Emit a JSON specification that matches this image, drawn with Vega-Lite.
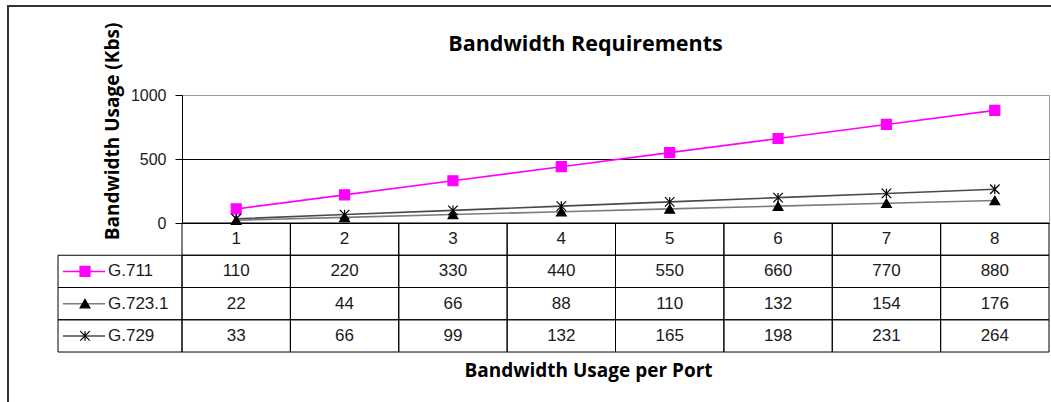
{
  "$schema": "https://vega.github.io/schema/vega-lite/v6.json",
  "width": 867,
  "height": 128,
  "autosize": {"type": "none"},
  "padding": {"left": 182, "top": 95, "right": 2, "bottom": 179},
  "background": "white",
  "title": {"text": "Bandwidth Requirements", "anchor": "middle", "dx": -30, "dy": 54, "font": "Open Sans", "fontSize": 21.5, "fontWeight": "bold", "color": "black"},
  "config": {"view": {"stroke": "#9a9a9a", "strokeWidth": 1}},
  "data": {"values": [
    {"port": 1, "series": "G.711", "kbps": 110}, {"port": 2, "series": "G.711", "kbps": 220},
    {"port": 3, "series": "G.711", "kbps": 330}, {"port": 4, "series": "G.711", "kbps": 440},
    {"port": 5, "series": "G.711", "kbps": 550}, {"port": 6, "series": "G.711", "kbps": 660},
    {"port": 7, "series": "G.711", "kbps": 770}, {"port": 8, "series": "G.711", "kbps": 880},
    {"port": 1, "series": "G.723.1", "kbps": 22}, {"port": 2, "series": "G.723.1", "kbps": 44},
    {"port": 3, "series": "G.723.1", "kbps": 66}, {"port": 4, "series": "G.723.1", "kbps": 88},
    {"port": 5, "series": "G.723.1", "kbps": 110}, {"port": 6, "series": "G.723.1", "kbps": 132},
    {"port": 7, "series": "G.723.1", "kbps": 154}, {"port": 8, "series": "G.723.1", "kbps": 176},
    {"port": 1, "series": "G.729", "kbps": 33}, {"port": 2, "series": "G.729", "kbps": 66},
    {"port": 3, "series": "G.729", "kbps": 99}, {"port": 4, "series": "G.729", "kbps": 132},
    {"port": 5, "series": "G.729", "kbps": 165}, {"port": 6, "series": "G.729", "kbps": 198},
    {"port": 7, "series": "G.729", "kbps": 231}, {"port": 8, "series": "G.729", "kbps": 264}
  ]},
  "transform": [
    {"calculate": "indexof(['G.711','G.723.1','G.729'], datum.series)", "as": "r"},
    {"calculate": "-252 * (datum.r + 1)", "as": "ya"},
    {"calculate": "-252 * (datum.r + 2)", "as": "yb"},
    {"calculate": "-252 * datum.r - 378", "as": "yc"},
    {"calculate": "datum.port - 0.5", "as": "xa"},
    {"calculate": "datum.port + 0.5", "as": "xb"}
  ],
  "layer": [
    {
      "transform": [{"filter": "datum.series === 'G.711' && datum.port === 1"}],
      "mark": {"type": "rect", "fill": "transparent", "stroke": "#333333", "strokeWidth": 2},
      "encoding": {
        "x": {"datum": -1.1055, "type": "quantitative"},
        "x2": {"datum": 9.6},
        "y": {"datum": 1695, "type": "quantitative"},
        "y2": {"datum": -2600}
      }
    },
    {
      "transform": [{"filter": "datum.series === 'G.711'"}],
      "mark": {"type": "rect", "fill": "transparent", "stroke": "black", "strokeWidth": 1},
      "encoding": {
        "x": {"field": "xa", "type": "quantitative"},
        "x2": {"field": "xb"},
        "y": {"datum": 0, "type": "quantitative"},
        "y2": {"datum": -252}
      }
    },
    {
      "mark": {"type": "rect", "fill": "transparent", "stroke": "black", "strokeWidth": 1},
      "encoding": {
        "x": {"field": "xa", "type": "quantitative"},
        "x2": {"field": "xb"},
        "y": {"field": "ya", "type": "quantitative"},
        "y2": {"field": "yb"}
      }
    },
    {
      "transform": [{"filter": "datum.port === 1"}],
      "mark": {"type": "rect", "fill": "transparent", "stroke": "black", "strokeWidth": 1},
      "encoding": {
        "x": {"datum": -0.644, "type": "quantitative"},
        "x2": {"datum": 0.5},
        "y": {"field": "ya", "type": "quantitative"},
        "y2": {"field": "yb"}
      }
    },
    {
      "transform": [{"filter": "datum.series === 'G.711'"}],
      "mark": {"type": "text", "font": "Liberation Sans", "fontSize": 17, "color": "#1a1a1a", "baseline": "middle", "align": "center"},
      "encoding": {
        "x": {"field": "port", "type": "quantitative"},
        "y": {"datum": -126, "type": "quantitative"},
        "text": {"field": "port", "type": "nominal"}
      }
    },
    {
      "mark": {"type": "text", "font": "Liberation Sans", "fontSize": 17, "color": "#1a1a1a", "baseline": "middle", "align": "center"},
      "encoding": {
        "x": {"field": "port", "type": "quantitative"},
        "y": {"field": "yc", "type": "quantitative"},
        "text": {"field": "kbps", "type": "quantitative"}
      }
    },
    {
      "transform": [{"filter": "datum.port === 1"}],
      "mark": {"type": "text", "font": "Liberation Sans", "fontSize": 17, "color": "#1a1a1a", "baseline": "middle", "align": "left"},
      "encoding": {
        "x": {"datum": -0.183, "type": "quantitative"},
        "y": {"field": "yc", "type": "quantitative"},
        "text": {"field": "series", "type": "nominal"}
      }
    },
    {
      "transform": [{"filter": "datum.port === 1"}],
      "mark": {"type": "rule", "strokeWidth": 1.5},
      "encoding": {
        "x": {"datum": -0.598, "type": "quantitative"},
        "x2": {"datum": -0.21},
        "y": {"field": "yc", "type": "quantitative"},
        "color": {"field": "series", "type": "nominal", "scale": {"domain": ["G.711", "G.723.1", "G.729"], "range": ["#ff00ff", "#7a7a86", "#4a4a4a"]}, "legend": null}
      }
    },
    {
      "mark": {"type": "line", "strokeWidth": 1.6},
      "encoding": {
        "x": {"field": "port", "type": "quantitative", "scale": {"domain": [0.5, 8.5], "nice": false, "zero": false},
              "axis": {"domain": false, "ticks": false, "labels": false, "grid": false, "title": "Bandwidth Usage per Port",
                       "titleFont": "Open Sans", "titleFontSize": 19, "titleFontWeight": "bold", "titleColor": "black",
                       "titleX": 406, "titleY": 153, "titleAlign": "center", "titleBaseline": "alphabetic"}},
        "y": {"field": "kbps", "type": "quantitative", "scale": {"domain": [0, 1000], "nice": false, "zero": false},
              "axis": {"values": [0, 500, 1000], "format": "d", "grid": true, "gridColor": "black",
                       "gridOpacity": {"condition": {"test": "datum.value === 1000", "value": 0}, "value": 1},
                       "domainColor": "black", "tickColor": "black", "tickSize": 7, "labelPadding": 9,
                       "labelFont": "Liberation Sans", "labelFontSize": 16, "labelColor": "#1a1a1a",
                       "title": "Bandwidth Usage (Kbs)", "titleFont": "Open Sans", "titleFontSize": 19, "titleFontWeight": "bold",
                       "titleColor": "black", "titleX": -64, "titleY": 36, "titleAlign": "center", "titleBaseline": "alphabetic", "titleAngle": 270}},
        "color": {"field": "series", "type": "nominal", "legend": null}
      }
    },
    {
      "mark": {"type": "point", "filled": true, "opacity": 1, "strokeWidth": 1.2},
      "encoding": {
        "x": {"field": "port", "type": "quantitative"},
        "y": {"field": "kbps", "type": "quantitative"},
        "shape": {"field": "series", "type": "nominal", "scale": {"domain": ["G.711", "G.723.1", "G.729"], "range": ["square", "triangle-up", "M-1,-1L1,1M-1,1L1,-1M0,-1L0,1"]}, "legend": null},
        "fill": {"field": "series", "type": "nominal", "scale": {"domain": ["G.711", "G.723.1", "G.729"], "range": ["#ff00ff", "#000000", "#000000"]}, "legend": null},
        "stroke": {"field": "series", "type": "nominal", "scale": {"domain": ["G.711", "G.723.1", "G.729"], "range": ["#ff00ff", "#000000", "#000000"]}, "legend": null},
        "size": {"field": "series", "type": "nominal", "scale": {"domain": ["G.711", "G.723.1", "G.729"], "range": [100, 90, 40]}, "legend": null}
      }
    },
    {
      "transform": [{"filter": "datum.port === 1"}],
      "mark": {"type": "point", "filled": true, "opacity": 1, "strokeWidth": 1.2},
      "encoding": {
        "x": {"datum": -0.395, "type": "quantitative"},
        "y": {"field": "yc", "type": "quantitative"},
        "shape": {"field": "series", "type": "nominal", "legend": null},
        "fill": {"field": "series", "type": "nominal", "legend": null},
        "stroke": {"field": "series", "type": "nominal", "legend": null},
        "size": {"field": "series", "type": "nominal", "legend": null}
      }
    }
  ]
}
